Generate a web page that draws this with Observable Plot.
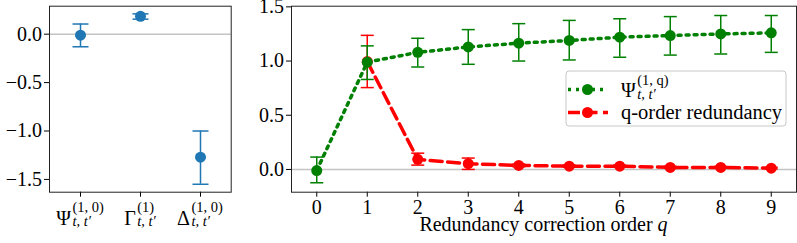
<!DOCTYPE html>
<html><head><meta charset="utf-8">
<script src="https://cdn.jsdelivr.net/npm/d3@7"></script>
<script src="https://cdn.jsdelivr.net/npm/@observablehq/plot@0.6"></script>
<style>
body{margin:0;background:#fff;}
#wrap{position:relative;width:797px;height:243px;font-family:"Liberation Serif","Times New Roman",serif;}
#left{position:absolute;left:0;top:0;}
#right{position:absolute;left:240px;top:0;}
#wrap svg{overflow:visible;}
#wrap svg text{font-family:"Liberation Serif","Times New Roman",serif;}
#wrap g[aria-label="x-axis tick label"], #wrap g[aria-label="y-axis tick label"]{font-size:20px;}
</style></head><body><div id="wrap"><div id="left"></div><div id="right"></div></div>
<script>
// ---- Left panel data ----
const leftCategories = ["Psi", "Gamma", "Delta"];
const leftValues = [-0.01, 0.185, -1.27];
const leftLower = [-0.13, 0.155, -1.55];
const leftUpper = [0.105, 0.21, -1.0];
const leftTickSymbols = ["Ψ", "Γ", "Δ"];
const leftTickSup = ["(1, 0)", "(1)", "(1, 0)"];
const leftTickSub = ["t, t′", "t, t′", "t, t′"];
const leftYTicks = [0, -0.5, -1.0, -1.5];

// ---- Right panel data ----
const psiOrders = [0, 1, 2, 3, 4, 5, 6, 7, 8, 9];
const psiValues = [-0.01, 0.99, 1.08, 1.13, 1.165, 1.19, 1.22, 1.235, 1.25, 1.26];
const psiLower = [-0.123, 0.83, 0.945, 0.97, 1.0, 1.01, 1.035, 1.055, 1.065, 1.08];
const psiUpper = [0.114, 1.14, 1.21, 1.29, 1.345, 1.375, 1.39, 1.41, 1.42, 1.42];

const redOrders = [1, 2, 3, 4, 5, 6, 7, 8, 9];
const redValues = [0.995, 0.093, 0.053, 0.037, 0.03, 0.03, 0.019, 0.019, 0.012];
const redLower = [0.755, 0.04, 0.0, 0.025, 0.02, 0.02, 0.01, 0.01, 0.005];
const redUpper = [1.237, 0.15, 0.105, 0.05, 0.04, 0.04, 0.028, 0.028, 0.02];

const rightXTicks = [0, 1, 2, 3, 4, 5, 6, 7, 8, 9];
const rightYTicks = [0, 0.5, 1.0, 1.5];
const xAxisLabel = "Redundancy correction order ";
const xAxisLabelVar = "q";
const legendLabels = ["q-order redundancy"];

const BLUE = "#1f77b4", GREEN = "#008000", RED = "#ff0000";
const FONT = '"Liberation Serif","Times New Roman",serif';
const FS = 20;

const capSymbol = {
  draw(ctx, size) {
    const w = Math.sqrt(size / Math.PI);
    ctx.moveTo(-w, 0);
    ctx.lineTo(w, 0);
  }
};

const leftData = leftCategories.map((c, i) => ({c, v: leftValues[i], lo: leftLower[i], hi: leftUpper[i]}));
const psiData = psiOrders.map((q, i) => ({q, v: psiValues[i], lo: psiLower[i], hi: psiUpper[i]}));
const redData = redOrders.map((q, i) => ({q, v: redValues[i], lo: redLower[i], hi: redUpper[i]}));

const baseStyle = {fontFamily: FONT, fontSize: FS + "px", color: "#000", background: "transparent", overflow: "visible"};
const hasAxisMarks = typeof Plot.axisX === "function";

function axes(xOpts, yOpts) {
  if (!hasAxisMarks) return [];
  return [
    Plot.axisX({...xOpts, fontSize: FS, label: null}),
    Plot.axisY({...yOpts, fontSize: FS, label: null})
  ];
}

const leftX = {ticks: leftCategories, tickSize: 5, tickPadding: 3, tickFormat: () => ""};
const leftY = {ticks: leftYTicks, tickFormat: d3.format(".1f"), tickSize: 5, tickPadding: 2.5};
const leftChart = Plot.plot({
  width: 240, height: 243,
  marginLeft: 49, marginRight: 9.3, marginTop: 5.7, marginBottom: 51.3,
  style: baseStyle,
  x: {type: "point", domain: leftCategories, padding: 0.5, label: null, ...(hasAxisMarks ? {} : leftX)},
  y: {domain: [-1.632, 0.289], label: null, ...(hasAxisMarks ? {} : leftY)},
  marks: [
    Plot.ruleY([0], {stroke: "#c4c4c4", strokeWidth: 1.5}),
    Plot.ruleX(leftData, {x: "c", y1: "lo", y2: "hi", stroke: BLUE, strokeWidth: 1.5}),
    Plot.dot(leftData, {x: "c", y: "lo", symbol: capSymbol, r: 8, stroke: BLUE, fill: "none", strokeWidth: 1.5}),
    Plot.dot(leftData, {x: "c", y: "hi", symbol: capSymbol, r: 8, stroke: BLUE, fill: "none", strokeWidth: 1.5}),
    Plot.dot(leftData, {x: "c", y: "v", r: 5.5, fill: BLUE, stroke: "none"}),
    ...axes(leftX, leftY),
    Plot.frame({stroke: "#222", strokeWidth: 1})
  ]
});
document.getElementById("left").appendChild(leftChart);

const rightX = {ticks: rightXTicks, tickFormat: d3.format("d"), tickSize: 5, tickPadding: 3};
const rightY = {ticks: rightYTicks, tickFormat: d3.format(".1f"), tickSize: 5, tickPadding: 2.5};
const rightChart = Plot.plot({
  width: 557, height: 243,
  marginLeft: 51, marginRight: 1, marginTop: 5.7, marginBottom: 51.3,
  style: baseStyle,
  x: {domain: [-0.5, 9.5], label: null, ...(hasAxisMarks ? {} : rightX)},
  y: {domain: [-0.21, 1.506], label: null, ...(hasAxisMarks ? {} : rightY)},
  marks: [
    Plot.ruleY([0], {stroke: "#c4c4c4", strokeWidth: 1.5}),
    // red series
    Plot.line(redData, {x: "q", y: "v", stroke: RED, strokeWidth: 3.5, strokeDasharray: "12,5.5"}),
    Plot.ruleX(redData, {x: "q", y1: "lo", y2: "hi", stroke: RED, strokeWidth: 1.5}),
    Plot.dot(redData, {x: "q", y: "lo", symbol: capSymbol, r: 6.5, stroke: RED, fill: "none", strokeWidth: 1.5}),
    Plot.dot(redData, {x: "q", y: "hi", symbol: capSymbol, r: 6.5, stroke: RED, fill: "none", strokeWidth: 1.5}),
    Plot.dot(redData, {x: "q", y: "v", r: 5.5, fill: RED, stroke: "none"}),
    // green series
    Plot.line(psiData, {x: "q", y: "v", stroke: GREEN, strokeWidth: 3.5, strokeDasharray: "3,5"}),
    Plot.ruleX(psiData, {x: "q", y1: "lo", y2: "hi", stroke: GREEN, strokeWidth: 1.5}),
    Plot.dot(psiData, {x: "q", y: "lo", symbol: capSymbol, r: 6.5, stroke: GREEN, fill: "none", strokeWidth: 1.5}),
    Plot.dot(psiData, {x: "q", y: "hi", symbol: capSymbol, r: 6.5, stroke: GREEN, fill: "none", strokeWidth: 1.5}),
    Plot.dot(psiData, {x: "q", y: "v", r: 5.5, fill: GREEN, stroke: "none"}),
    ...axes(rightX, rightY),
    Plot.frame({stroke: "#222", strokeWidth: 1})
  ]
});
document.getElementById("right").appendChild(rightChart);

// math-style label: symbol with superscript & subscript
function mathLabel(parent, cx, baseline, sym, sup, sub, size, subSize, anchor) {
  const g = parent.append("g").attr("font-family", FONT).attr("fill", "#000").attr("text-anchor", "start");
  const s = g.append("text").attr("text-anchor", "start").attr("x", 0).attr("y", baseline).attr("font-size", size).text(sym);
  const sw = s.node().getComputedTextLength();
  const a = g.append("text").attr("text-anchor", "start").attr("x", sw + 1.5).attr("y", baseline - 12.5).attr("font-size", subSize).text(sup);
  const b = g.append("text").attr("text-anchor", "start").attr("x", sw + 1.5).attr("y", baseline + 1.5).attr("font-size", subSize).attr("font-style", "italic").text(sub);
  const w = sw + 1.5 + Math.max(a.node().getComputedTextLength(), b.node().getComputedTextLength());
  const x0 = anchor === "start" ? cx : cx - w / 2;
  g.attr("transform", `translate(${x0},0)`);
  return g;
}

// left x tick labels (positioned by the Plot x scale)
const lsvg = d3.select(leftChart);
const lx = leftChart.scale("x");
leftCategories.forEach((c, i) => {
  mathLabel(lsvg, lx.apply(c), 224.5, leftTickSymbols[i], leftTickSup[i], leftTickSub[i], 20, 14.5);
});

// right x axis label
const rsvg = d3.select(rightChart);
const rx = rightChart.scale("x");
const xr = rx.range;
const lab = rsvg.append("text")
  .attr("x", (xr[0] + xr[1]) / 2).attr("y", 231)
  .attr("text-anchor", "middle").attr("font-family", FONT).attr("font-size", FS).attr("fill", "#000");
lab.append("tspan").text(xAxisLabel);
lab.append("tspan").attr("font-style", "italic").text(xAxisLabelVar);

// legend
const lg = rsvg.append("g").attr("transform", "translate(326,71)");
lg.append("rect").attr("x", 0).attr("y", 0).attr("width", 220).attr("height", 55).attr("rx", 3)
  .attr("fill", "#fff").attr("fill-opacity", 0.8).attr("stroke", "#c8c8c8").attr("stroke-width", 1);
// entry 1 (green)
lg.append("line").attr("x1", 2).attr("x2", 42).attr("y1", 18.5).attr("y2", 18.5)
  .attr("stroke", GREEN).attr("stroke-width", 3.5).attr("stroke-dasharray", "3,5");
lg.append("circle").attr("cx", 21.5).attr("cy", 18.5).attr("r", 5.5).attr("fill", GREEN);
mathLabel(lg, 55, 26, "Ψ", "(1, q)", "t, t′", 20, 14.5, "start");
// entry 2 (red)
lg.append("line").attr("x1", 2).attr("x2", 42).attr("y1", 41.5).attr("y2", 41.5)
  .attr("stroke", RED).attr("stroke-width", 3.5).attr("stroke-dasharray", "12,5.5");
lg.append("circle").attr("cx", 21.5).attr("cy", 41.5).attr("r", 5.5).attr("fill", RED);
lg.append("text").attr("text-anchor", "start").attr("x", 55).attr("y", 47.5).attr("font-family", FONT).attr("font-size", 20.5).attr("fill", "#000").text(legendLabels[0]);
</script></body></html>
